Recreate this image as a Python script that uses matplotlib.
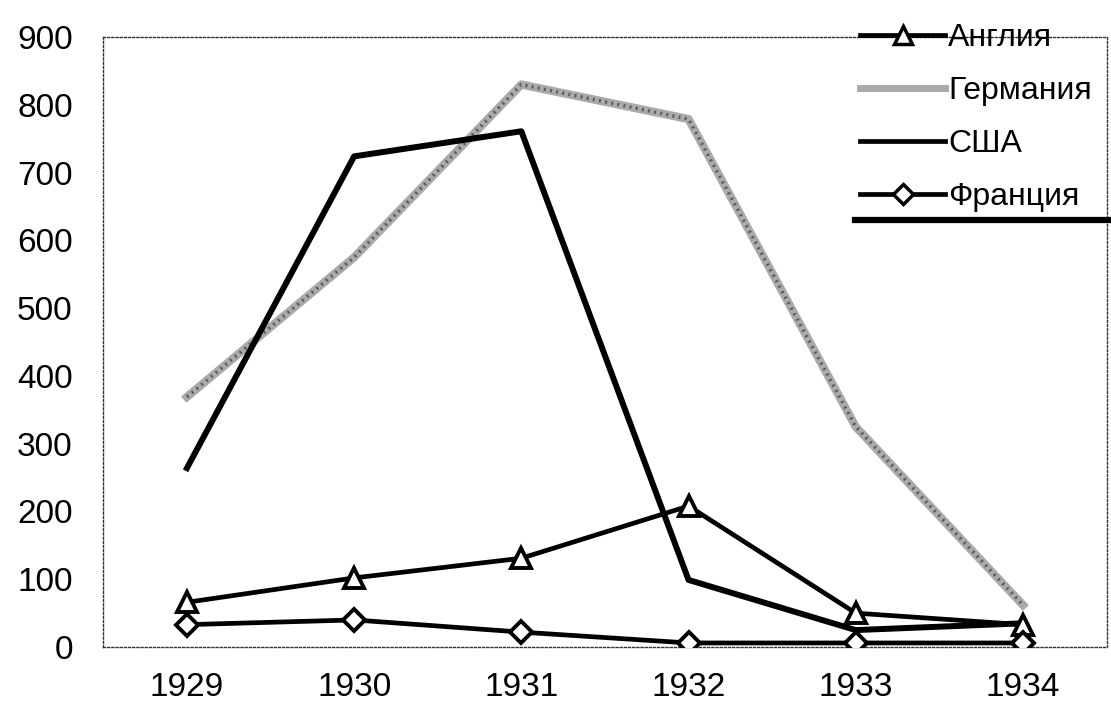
import numpy as np
import matplotlib.pyplot as plt
from matplotlib.lines import Line2D

plt.rcParams['font.family'] = ['Liberation Sans', 'DejaVu Sans']

# data
years = ['1929', '1930', '1931', '1932', '1933', '1934']
england = [66, 102, 131, 208, 50, 33]
germany = [369, 575, 830, 779, 325, 62]
usa = [264, 724, 761, 99, 25, 35]
france = [33, 40, 22, 6, 6, 6]

fig = plt.figure(figsize=(11.11, 7.27), dpi=100)
ax = fig.add_axes([0.093, 0.11, 0.903, 0.839])

x = np.arange(len(years))
# textured grey line: light base with dark dots on top
ax.plot(x, germany, color='#aaaaaa', lw=6, zorder=2)
ax.plot(x, germany, color='#5e5e5e', lw=2.5, ls=(0, (0.6, 1.2)), zorder=2)
ax.plot(x, usa, color='black', lw=4.3, zorder=3)
ax.plot(x, england, color='black', lw=3.4, marker='^', markersize=15,
        markerfacecolor='white', markeredgecolor='black', markeredgewidth=2.8,
        zorder=4)
ax.plot(x, france, color='black', lw=3.4, marker='D', markersize=11,
        markerfacecolor='white', markeredgecolor='black', markeredgewidth=2.8,
        zorder=4)

ax.set_xlim(-0.5, 5.5)
ax.set_ylim(0, 900)
ax.set_yticks(range(0, 901, 100))
ax.set_xticks(x)
ax.set_xticklabels(years)
ax.tick_params(axis='both', length=0, labelsize=24)
ax.tick_params(axis='x', pad=18)
ax.tick_params(axis='y', pad=22)
for s in ax.spines.values():
    s.set_linestyle((0, (1.5, 1.5)))
    s.set_color('#333333')
    s.set_linewidth(1.0)

# legend
h_eng = Line2D([], [], color='black', lw=3.4, marker='^', markersize=13,
               markerfacecolor='white', markeredgecolor='black', markeredgewidth=2.5)
h_ger = Line2D([], [], color='#aaaaaa', lw=5)
h_usa = Line2D([], [], color='black', lw=3.4)
h_fra = Line2D([], [], color='black', lw=3.4, marker='D', markersize=10,
               markerfacecolor='white', markeredgecolor='black', markeredgewidth=2.5)
fig.legend([h_eng, h_ger, h_usa, h_fra], ['Англия', 'Германия', 'США', 'Франция'],
           loc='upper left', bbox_to_anchor=(0.763, 0.986), frameon=False,
           fontsize=23, handlelength=2.65, handletextpad=0.1, labelspacing=0.72,
           borderaxespad=0)
fig.add_artist(Line2D([0.77, 0.998], [0.697, 0.697], transform=fig.transFigure,
                      color='black', lw=4.5))

fig.savefig('out.png', dpi=100)
